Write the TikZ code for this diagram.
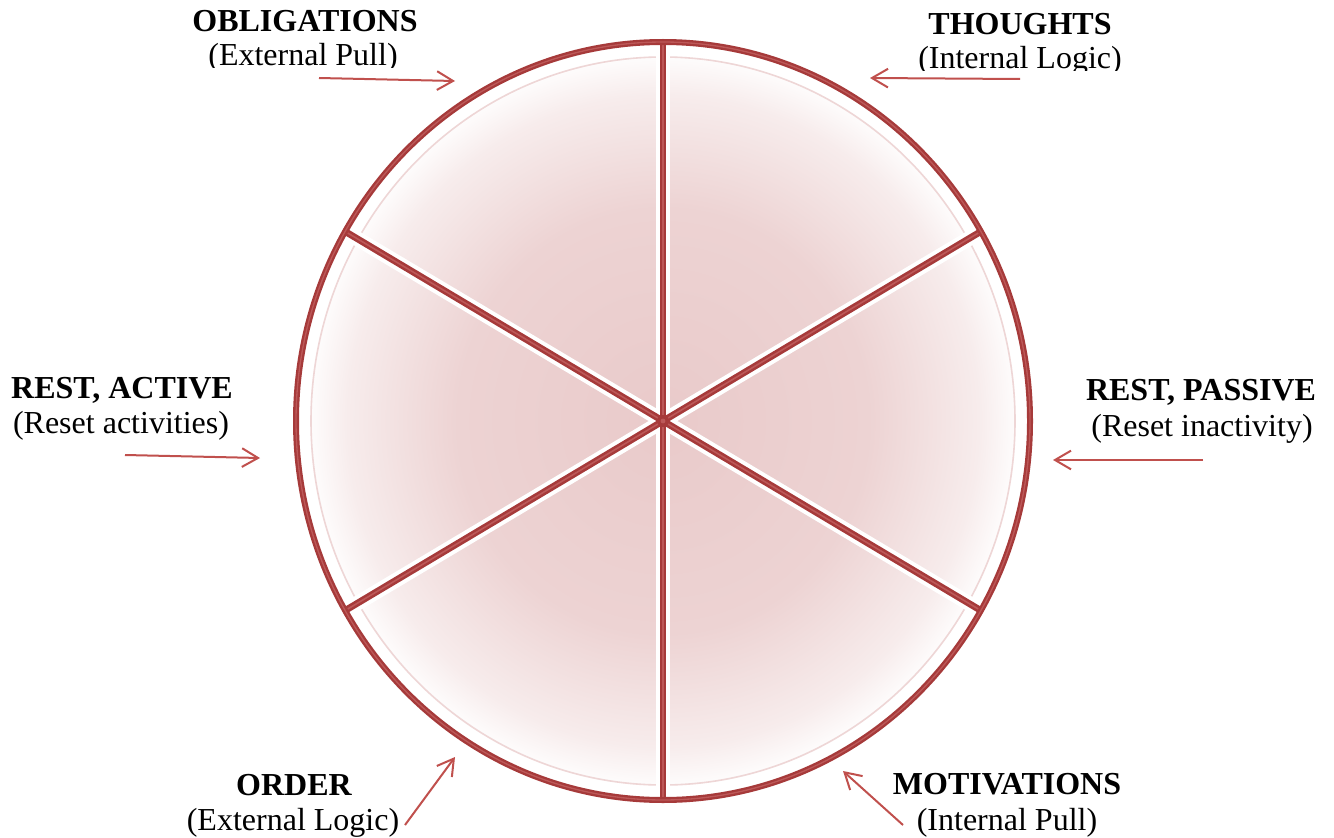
\documentclass[tikz,border=0pt]{standalone}
\usepackage{fontspec}
\setmainfont{Liberation Serif}
\usetikzlibrary{arrows, arrows.meta}

\definecolor{rimred}{RGB}{166,58,58}
\definecolor{rimlight}{RGB}{188,88,88}
\definecolor{arrowred}{RGB}{192,80,77}
\definecolor{pinkA}{RGB}{233,202,202}
\definecolor{pinkB}{RGB}{237,211,211}
\definecolor{pinkC}{RGB}{247,236,236}
\definecolor{pinkline}{RGB}{238,214,214}

\pgfdeclareradialshading{wedgeglow}{\pgfpoint{0bp}{0bp}}{%
  color(0bp)=(pinkA); color(14bp)=(pinkB); color(21.5bp)=(pinkC);
  color(24.5bp)=(white); color(50bp)=(white)}

\tikzset{
  title/.style={anchor=base, font=\fontsize{24}{26}\selectfont\bfseries, inner sep=0pt},
  subtitle/.style={anchor=base, font=\fontsize{24}{26}\selectfont, inner sep=0pt},
  pointer/.style={draw=arrowred, line width=1.5pt, -{Straight Barb[length=12pt,width=14pt]}}
}

\begin{document}
\begin{tikzpicture}[x=0.75pt, y=-0.75pt]
  \useasboundingbox (0,0) rectangle (1334,838);

  % Coordinates
  \coordinate (C) at (663,421);
  \foreach \a [count=\i] in {30,90,150,210,270,330}
    \coordinate (S\i) at ([shift={(\a:367 and 379)}]C);

  % Wheel
  \shade[shading=wedgeglow] (C) ellipse [x radius=275.25pt, y radius=284.25pt];
  \draw[white, line width=7pt] (C) ellipse [x radius=268pt, y radius=277pt];
  \draw[pinkline, line width=1.2pt] (C) ellipse [x radius=264pt, y radius=273pt];
  \foreach \i in {1,...,6}
    \draw[white, line width=11pt] (C) -- (S\i);
  \foreach \i in {1,...,6}
    \draw[rimred, line width=5pt] (C) -- (S\i);
  \foreach \i in {1,...,6}
    \draw[rimlight, line width=1.2pt] (C) -- (S\i);
  \draw[rimred, line width=4.5pt] (C) ellipse [x radius=275.25pt, y radius=284.25pt];
  \draw[rimlight, line width=1pt] (C) ellipse [x radius=275.25pt, y radius=284.25pt];
  \fill[rimred] (C) circle (4.5pt);
  \fill[rimlight] (C) circle (1.8pt);

  % Labels
  \node[title] (obl) at (305,32) {OBLIGATIONS};
  \begin{scope}
    \clip (0,0) rectangle (1334,68);
    \node[subtitle] (obl-sub) at (303,66) {(External Pull)};
  \end{scope}
  \node[title] (tho) at (1020,35) {THOUGHTS};
  \begin{scope}
    \clip (0,0) rectangle (1334,71);
    \node[subtitle] (tho-sub) at (1020,69) {(Internal Logic)};
  \end{scope}
  \node[title] (ract) at (122,398) {REST, ACTIVE};
  \node[subtitle] (ract-sub) at (121,433) {(Reset activities)};
  \node[title] (rpas) at (1201,400) {REST, PASSIVE};
  \node[subtitle] (rpas-sub) at (1202,436) {(Reset inactivity)};
  \node[title] (ord) at (294,795) {ORDER};
  \node[subtitle] (ord-sub) at (293,830) {(External Logic)};
  \node[title] (mot) at (1007,794) {MOTIVATIONS};
  \node[subtitle] (mot-sub) at (1007,830) {(Internal Pull)};

  % Arrows
  \coordinate (oblA) at (319,78);   \coordinate (oblB) at (455,81);
  \coordinate (thoA) at (1020,79);  \coordinate (thoB) at (870,78);
  \coordinate (ractA) at (125,455); \coordinate (ractB) at (260,458);
  \coordinate (rpasA) at (1203,460);\coordinate (rpasB) at (1053,460);
  \coordinate (ordA) at (405,825);  \coordinate (ordB) at (455,757);
  \coordinate (motA) at (903,825);  \coordinate (motB) at (843,771);
  \draw[pointer] (oblA) -- (oblB);
  \draw[pointer] (thoA) -- (thoB);
  \draw[pointer] (ractA) -- (ractB);
  \draw[pointer] (rpasA) -- (rpasB);
  \draw[pointer] (ordA) -- (ordB);
  \draw[pointer] (motA) -- (motB);
\end{tikzpicture}
\end{document}
